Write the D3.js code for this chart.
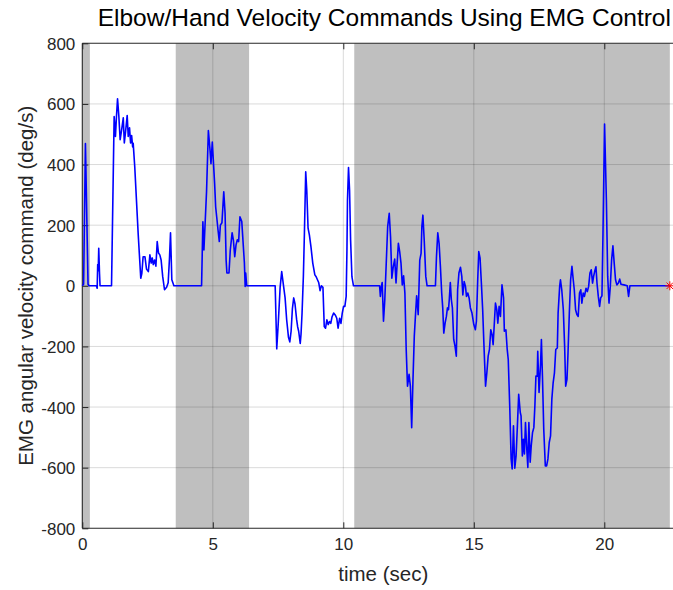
<!DOCTYPE html>
<html>
<head>
<meta charset="utf-8">
<script src="https://cdn.jsdelivr.net/npm/d3@7"></script>
<style>
  html, body { margin: 0; padding: 0; background: #fff; }
  svg { display: block; font-family: "Liberation Sans", Arial, Helvetica, sans-serif; }
</style>
</head>
<body>
<svg id="chart" width="673" height="590"></svg>
<script>
// Sample times (s) of the EMG velocity command trace
const timeSec = [
  0.00, 0.05, 0.12, 0.22, 0.26, 0.54, 0.57, 0.59, 0.61, 0.63, 0.66, 0.68,
  1.12, 1.22, 1.27, 1.31, 1.35, 1.40, 1.45, 1.50, 1.57, 1.61, 1.66, 1.72,
  1.76, 1.81, 1.85, 1.89, 1.93, 1.95, 2.01, 2.14, 2.24, 2.28, 2.33, 2.40,
  2.46, 2.53, 2.59, 2.64, 2.68, 2.72, 2.77, 2.82, 2.87, 2.92, 2.97, 3.02,
  3.08, 3.15, 3.23, 3.29, 3.34, 3.38, 3.43, 3.51,
  4.57, 4.62, 4.66, 4.76, 4.83, 4.89, 4.93, 4.98, 5.02, 5.07, 5.11, 5.15,
  5.20, 5.25, 5.29, 5.35, 5.42, 5.47, 5.51, 5.54, 5.62, 5.67, 5.74, 5.79,
  5.84, 5.89, 5.94, 5.99, 6.04, 6.11, 6.17, 6.21, 6.24, 6.26, 6.30,
  7.39, 7.45, 7.51, 7.58, 7.64, 7.71, 7.77, 7.83, 7.90, 7.95, 8.00, 8.05,
  8.10, 8.15, 8.21, 8.25, 8.29, 8.35, 8.38, 8.42, 8.47, 8.51, 8.56, 8.60,
  8.65, 8.70, 8.76, 8.83, 8.91, 8.96, 9.01, 9.06, 9.11, 9.16, 9.22, 9.27,
  9.32, 9.37, 9.42, 9.47, 9.52, 9.57, 9.63, 9.69, 9.75, 9.80, 9.86, 9.91,
  9.96, 10.01, 10.06, 10.11, 10.14, 10.16, 10.20, 10.24, 10.28, 10.33, 10.39,
  11.39, 11.42, 11.45, 11.49, 11.54, 11.59, 11.65, 11.70, 11.76, 11.81, 11.86, 11.91,
  11.97, 12.02, 12.06, 12.11, 12.16, 12.21, 12.26, 12.31, 12.36, 12.41, 12.46, 12.52,
  12.57, 12.62, 12.67, 12.72, 12.77, 12.81, 12.87, 12.93, 12.98, 13.01, 13.05, 13.10,
  13.16, 13.21, 13.53, 13.57, 13.62, 13.67, 13.72, 13.77, 13.81, 13.85, 13.90, 13.95,
  13.99, 14.03, 14.06, 14.10, 14.14, 14.18, 14.23, 14.28, 14.33, 14.38, 14.43, 14.49,
  14.54, 14.58, 14.63, 14.68, 14.72, 14.77, 14.82, 14.87, 14.93, 15.00, 15.06, 15.10,
  15.15, 15.19, 15.24, 15.29, 15.34, 15.39, 15.45, 15.50, 15.55, 15.60, 15.65, 15.70,
  15.74, 15.78, 15.83, 15.88, 15.92, 15.97, 16.02, 16.08, 16.14, 16.17, 16.23, 16.28,
  16.32, 16.38, 16.43, 16.47, 16.52, 16.57, 16.62, 16.67, 16.72, 16.78, 16.81, 16.86,
  16.90, 16.94, 16.98, 17.03, 17.07, 17.11, 17.16, 17.20, 17.25, 17.30, 17.34, 17.38,
  17.43, 17.45, 17.50, 17.56, 17.59, 17.63, 17.68, 17.74, 17.79, 17.84, 17.89, 17.94,
  17.99, 18.04, 18.09, 18.14, 18.20, 18.23, 18.29, 18.32, 18.37, 18.43, 18.48, 18.52,
  18.57, 18.61, 18.66, 18.71, 18.76, 18.81, 18.85, 18.90, 18.95, 19.00, 19.05, 19.10,
  19.14, 19.19, 19.24, 19.30, 19.35, 19.40, 19.45, 19.50, 19.55, 19.59, 19.63, 19.68,
  19.72, 19.77, 19.82, 19.86, 19.91, 19.95, 20.01, 20.08, 20.13, 20.18, 20.23, 20.28,
  20.33, 20.38, 20.43, 20.48, 20.54, 20.59, 20.64, 20.75, 20.88, 20.93, 20.98, 22.51
];

// Angular velocity command (deg/s) at each sample time
const velocityCmd = [
  0, 5, 469, 5, 0, 0, -8, 70, 50, 124, 40, 0,
  0, 558, 493, 560, 617, 560, 482, 510, 554, 471, 510, 562,
  493, 521, 471, 496, 458, 470, 392, 173, 25, 40, 96, 96,
  55, 47, 102, 75, 92, 70, 85, 65, 146, 108, 102, 85,
  31, -13, -5, 10, 90, 175, 20, 0,
  0, 211, 118, 310, 512, 452, 403, 474, 414, 337, 260, 227,
  184, 146, 200, 208, 310, 240, 85, 42, 42, 118, 175, 150,
  96, 135, 152, 146, 228, 212, 130, 76, -2, 42, 0,
  0, -208, -120, -5, 47, 0, -40, -112, -170, -185, -150, -75,
  -40, -60, -110, -135, -150, -190, -160, -90, 31, 173, 376, 315,
  190, 168, 129, 75, 36, 30, 20, 10, -16, 0, -5, -134,
  -140, -112, -128, -118, -124, -102, -90, -96, -107, -140, -107, -124,
  -90, -68, -68, -35, 120, 282, 390, 315, 150, 30, 0,
  0, -35, -5, 11, -117, -46, 85, 195, 239, 162, 25, 61,
  88, 9, 69, 140, 113, 75, 3, 33, -24, -210, -331, -292,
  -331, -468, -309, -166, -90, -33, -95, 85, 107, 195, 233, 151,
  31, 0, 0, 96, 175, 140, 64, -24, -73, -156, -123, -101,
  -73, -79, -46, 11, -46, -73, -177, -199, -232, -13, 42, 61,
  31, -30, 14, -2, -35, -24, -40, -73, -90, -128, -145, -117,
  20, 113, 91, 9, -79, -199, -331, -287, -232, -210, -145, -161,
  -194, -134, -57, -79, -123, -68, -101, 3, -40, -150, -145, -210,
  -243, -407, -571, -604, -462, -602, -561, -462, -358, -418, -429, -561,
  -506, -555, -451, -539, -599, -451, -582, -528, -484, -468, -396, -298,
  -298, -216, -352, -254, -177, -298, -473, -594, -594, -571, -517, -495,
  -374, -320, -287, -210, -205, -90, -2, 20, -13, -79, -199, -331,
  -309, -221, -90, 20, 64, 20, -13, -79, -95, -101, -24, -13,
  -57, -24, -35, -8, -19, -2, 42, 53, 9, 31, 47, 63,
  9, -35, -68, -40, -33, 173, 534, 282, 31, -57, -2, 85,
  132, 74, 20, 3, 9, 22, 5, 3, 0, -35, 0, 0
];

// Shaded intervals (s)
const shadeStart = [0, 3.58, 10.42];
const shadeEnd   = [0.29, 6.39, 22.51];

// Axis limits and ticks
const xLimits = [0, 23.065];
const yLimits = [-800, 800];
const xTicks = [0, 5, 10, 15, 20];
const yTicks = [-800, -600, -400, -200, 0, 200, 400, 600, 800];

const titleText = "Elbow/Hand Velocity Commands Using EMG Control";
const xLabelText = "time (sec)";
const yLabelText = "EMG angular velocity command (deg/s)";

const svg = d3.select("#chart");
const plot = { left: 82.3, right: 684.3, top: 43.3, bottom: 528.3 };

const x = d3.scaleLinear().domain(xLimits).range([plot.left, plot.right]);
const y = d3.scaleLinear().domain(yLimits).range([plot.bottom, plot.top]);

const axisColor = "#262626";
// Plain integer labels with an ASCII hyphen for negatives
const fmt = v => String(v);

// Gray shading bands
svg.append("g")
  .selectAll("rect")
  .data(d3.zip(shadeStart, shadeEnd))
  .join("rect")
  .attr("x", d => x(d[0]))
  .attr("y", plot.top)
  .attr("width", d => x(d[1]) - x(d[0]))
  .attr("height", plot.bottom - plot.top)
  .attr("fill", "#bfbfbf");

// Grid lines
const grid = svg.append("g")
  .attr("stroke", "#000")
  .attr("stroke-opacity", 0.15)
  .attr("stroke-width", 1);
grid.selectAll("line.gx")
  .data(xTicks.filter(t => t > xLimits[0]))
  .join("line")
  .attr("class", "gx")
  .attr("x1", d => x(d)).attr("x2", d => x(d))
  .attr("y1", plot.top).attr("y2", plot.bottom);
grid.selectAll("line.gy")
  .data(yTicks.filter(t => t > yLimits[0] && t < yLimits[1]))
  .join("line")
  .attr("class", "gy")
  .attr("x1", plot.left).attr("x2", plot.right)
  .attr("y1", d => y(d)).attr("y2", d => y(d));

// Axes (ticks point inward)
const gx = svg.append("g")
  .attr("transform", `translate(0,${plot.bottom})`)
  .call(d3.axisBottom(x).tickValues(xTicks).tickSize(-6).tickPadding(10).tickFormat(fmt));
const gxTop = svg.append("g")
  .attr("transform", `translate(0,${plot.top})`)
  .call(d3.axisTop(x).tickValues(xTicks).tickSize(-6).tickFormat(""));
const gy = svg.append("g")
  .attr("transform", `translate(${plot.left},0)`)
  .call(d3.axisLeft(y).tickValues(yTicks).tickSize(-6).tickPadding(7).tickFormat(fmt));

[gx, gxTop, gy].forEach(g => {
  g.select(".domain").attr("stroke", axisColor).attr("stroke-width", 1.1);
  g.selectAll(".tick line").attr("stroke", axisColor).attr("stroke-width", 1);
  g.selectAll(".tick text")
    .attr("fill", axisColor)
    .attr("font-size", 17)
    .attr("font-family", "'Liberation Sans', Arial, Helvetica, sans-serif");
});
gx.select(".domain").attr("d", `M${plot.left},0H${plot.right}`);
gxTop.select(".domain").attr("d", `M${plot.left},0H${plot.right}`);
gy.select(".domain").attr("d", `M0,${plot.bottom}V${plot.top}`);
gx.selectAll(".tick text").attr("dy", "0.71em");
gy.selectAll(".tick text").attr("dy", "0.35em");

// Velocity trace
const points = d3.zip(timeSec, velocityCmd);
svg.append("path")
  .datum(points)
  .attr("fill", "none")
  .attr("stroke", "#0000ff")
  .attr("stroke-width", 1.6)
  .attr("stroke-linejoin", "round")
  .attr("d", d3.line().x(d => x(d[0])).y(d => y(d[1])));

// Asterisk marker on the final sample
const last = points[points.length - 1];
const r = 4.5, rd = r * 0.72;
svg.append("path")
  .attr("transform", `translate(${x(last[0])},${y(last[1])})`)
  .attr("d", `M${-r},0H${r}M0,${-r}V${r}M${-rd},${-rd}L${rd},${rd}M${-rd},${rd}L${rd},${-rd}`)
  .attr("stroke", "#ff0000")
  .attr("stroke-width", 1)
  .attr("fill", "none");

// Title and axis labels
const midX = (plot.left + plot.right) / 2;
svg.append("text")
  .attr("x", midX + 1).attr("y", 26)
  .attr("text-anchor", "middle")
  .attr("font-size", 24.5)
  .attr("fill", "#000")
  .text(titleText);

svg.append("text")
  .attr("x", midX).attr("y", 581)
  .attr("text-anchor", "middle")
  .attr("font-size", 20.5)
  .attr("fill", axisColor)
  .text(xLabelText);

svg.append("text")
  .attr("transform", `translate(33,${(plot.top + plot.bottom) / 2}) rotate(-90)`)
  .attr("text-anchor", "middle")
  .attr("font-size", 20.5)
  .attr("fill", axisColor)
  .text(yLabelText);
</script>
</body>
</html>
